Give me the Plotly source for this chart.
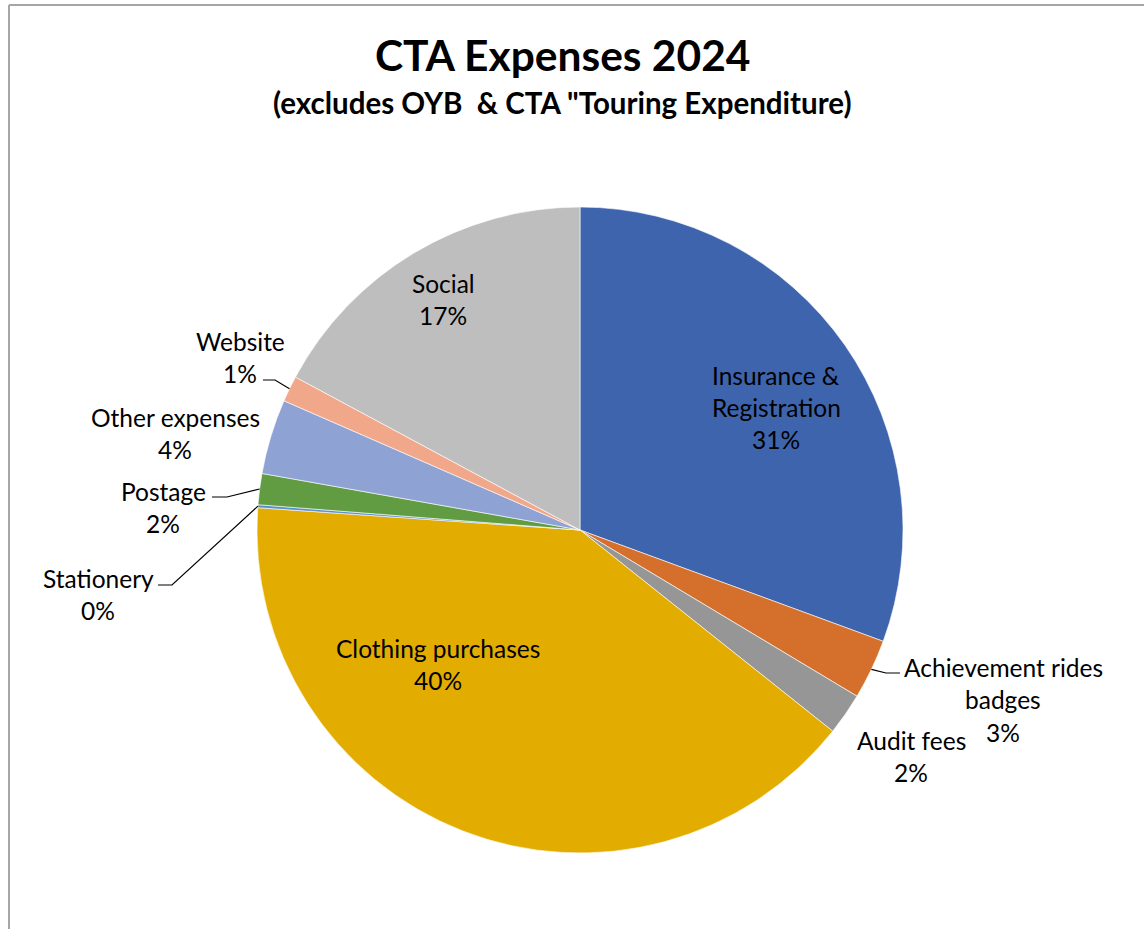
import math
import plotly.graph_objects as go

# ---- data ----
categories = ["Insurance &<br>Registration", "Achievement rides<br>badges", "Audit fees",
              "Clothing purchases", "Stationery", "Postage", "Other expenses",
              "Website", "Social"]
values = [30.6, 3.0, 2.1, 40.4, 0.15, 1.55, 3.75, 1.3, 17.15]
colors = ["#3E64AD", "#D4702C", "#969696", "#E2AC00", "#5A8FCF",
          "#619C42", "#8FA2D4", "#F1A88A", "#BEBEBE"]

title_text = "CTA Expenses 2024"
subtitle_text = '(excludes OYB  &amp; CTA "Touring Expenditure)'

# ---- layout geometry (pixels) ----
W, H = 1144, 929
CX, CY, R = 580, 530, 323
FONT = "Lato"
FS = 24.5

def px(x):
    return x / W

def py(y):
    return 1 - y / H

total = sum(values)
pcts = [v / total * 100 for v in values]

# label anchor (center x, y of first line) per slice
label_pos = [(776, 375), (1003, 667), (911, 740), (438, 648), (98, 578),
             (163, 491), (175, 417), (240, 341), (443, 283)]
# leader lines: (slice index, label-end point, elbow point)
leaders = [(7, (263, 380), (275, 380)),
           (5, (212, 497), (227, 497)),
           (4, (158, 585), (172, 585)),
           (1, (900, 673), (886, 673))]

fig = go.Figure(go.Pie(
    labels=categories, values=values, sort=False, direction="clockwise",
    rotation=0, textinfo="none", hoverinfo="label+percent",
    marker=dict(colors=colors, line=dict(color="white", width=0.6)),
    domain=dict(x=[px(CX - R), px(CX + R)], y=[py(CY + R), py(CY - R)]),
    showlegend=False,
))

annotations = []
for name, p, (lx, ly) in zip(categories, pcts, label_pos):
    lines = name.split("<br>") + [f"{round(p):d}%"]
    for i, t in enumerate(lines):
        annotations.append(dict(
            x=px(lx), y=py(ly + i * 32.5), xref="paper", yref="paper",
            text=t, showarrow=False, xanchor="center", yanchor="middle",
            font=dict(family=FONT, size=FS, color="#000000")))

annotations.append(dict(x=px(562), y=py(55), xref="paper", yref="paper",
                        text=f"<b>{title_text}</b>", showarrow=False,
                        xanchor="center", yanchor="middle",
                        font=dict(family=FONT, size=42.5, color="#000000")))
annotations.append(dict(x=px(562), y=py(103), xref="paper", yref="paper",
                        text=f"<b>{subtitle_text}</b>", showarrow=False,
                        xanchor="center", yanchor="middle",
                        font=dict(family=FONT, size=29.5, color="#000000")))

# cumulative angles for leader endpoints
cum = [0]
for v in values:
    cum.append(cum[-1] + v)

shapes = []
for idx, (a, b) in [(l[0], (l[1], l[2])) for l in leaders]:
    mid = (cum[idx] + cum[idx + 1]) / 2 / total * 2 * math.pi
    ex = CX + R * math.sin(mid)
    ey = CY - R * math.cos(mid)
    path = f"M {px(a[0])} {py(a[1])} L {px(b[0])} {py(b[1])} L {px(ex)} {py(ey)}"
    shapes.append(dict(type="path", path=path, xref="paper", yref="paper",
                       line=dict(color="#000000", width=1.2)))

# chart border (top and left visible)
shapes.append(dict(type="line", xref="paper", yref="paper",
                   x0=px(9), y0=py(5), x1=1, y1=py(5),
                   line=dict(color="#A6A6A6", width=2)))
shapes.append(dict(type="line", xref="paper", yref="paper",
                   x0=px(9), y0=py(5), x1=px(9), y1=0,
                   line=dict(color="#A6A6A6", width=2)))

fig.update_layout(
    width=W, height=H, margin=dict(l=0, r=0, t=0, b=0),
    paper_bgcolor="white", plot_bgcolor="white",
    annotations=annotations, shapes=shapes,
)

# remove the browser's default page margin so the figure fills the window
fig.write_html("out.html", config={"displayModeBar": False},
               post_script="document.body.style.margin='0';")
